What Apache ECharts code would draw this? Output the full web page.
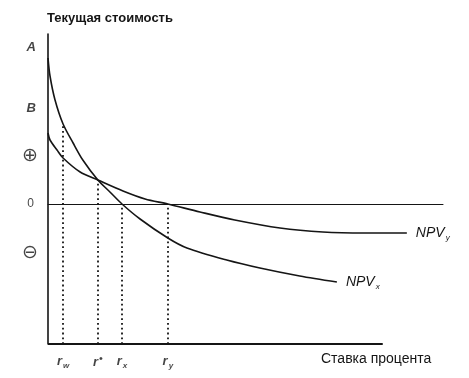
<!DOCTYPE html>
<html>
<head>
<meta charset="utf-8">
<script src="https://cdn.jsdelivr.net/npm/echarts@6/dist/echarts.min.js"></script>
<style>
  html, body { margin: 0; background: #fff; }
  #chart { width: 469px; height: 378px; }
</style>
</head>
<body>
<div id="chart"></div>
<script>
// NPV profiles (rate units 0..118, value units -14..17)
var rateX = [0, 0.6, 2.1, 4.5, 7.5, 10.4, 14.9, 18.5, 22.1, 27.5, 35.8, 41.5, 53.4, 63.3, 75.2, 86.3];
var npvX = [14.6, 12.8, 10.4, 8.0, 6.1, 4.4, 2.4, 1.2, 0, -1.5, -3.4, -4.4, -5.6, -6.4, -7.2, -7.8];
var rateY = [0, 0.6, 2.7, 4.5, 9.6, 14.9, 22.4, 29.0, 35.8, 45.4, 55.8, 69.3, 82.1, 94.6, 107.2];
var npvY = [7.1, 6.4, 5.4, 4.6, 3.2, 2.4, 1.3, 0.5, 0, -0.8, -1.6, -2.4, -2.8, -2.9, -2.9];

// rates marked on the x axis, and how high each dotted line goes
var markNames = ['w', '*', 'x', 'y'];
var markRates = [4.5, 14.9, 22.1, 35.8];
var markTops = [8.0, 2.4, 0, 0];

// labels on the value axis
var leftNames = ['A', 'B', '⊕', '0', '⊖'];
var leftValues = [15.7, 9.6, 4.8, 0, -4.9];

var yMin = -14, yMax = 17, xMax = 118, axisEnd = 100;
var ink = '#151515';

function zip(a, b) {
  return a.map(function (v, i) { return [v, b[i]]; });
}

function leftLabel(name) {
  if (name === '⊕' || name === '⊖') {
    return { fontFamily: 'DejaVu Sans', fontSize: 19, color: ink, distance: 10 };
  }
  if (name === '0') {
    return { fontFamily: 'Liberation Sans', fontSize: 12, color: ink, distance: 14 };
  }
  return { fontFamily: 'Liberation Sans', fontStyle: 'italic', fontWeight: 'bold', fontSize: 13, color: ink, distance: 12 };
}

var npvRich = {
  n: { fontFamily: 'Liberation Sans', fontStyle: 'italic', fontSize: 14, color: ink },
  s: { fontFamily: 'Liberation Sans', fontStyle: 'italic', fontSize: 8, color: ink, padding: [10, 0, 0, 1] }
};

var myChart = echarts.init(document.getElementById('chart'));
var option = {
  animation: false,
  backgroundColor: '#fff',
  title: [{
    text: 'Текущая стоимость',
    left: 47,
    top: 12,
    padding: 0,
    textStyle: { fontFamily: 'Liberation Sans', fontSize: 13, fontWeight: 'bold', color: ink }
  }, {
    text: 'Ставка процента',
    left: 321,
    top: 352,
    padding: 0,
    textStyle: { fontFamily: 'Liberation Sans', fontSize: 14, fontWeight: 'normal', color: ink }
  }],
  grid: { left: 48, right: 26, top: 34, bottom: 34 },
  xAxis: {
    type: 'value',
    min: 0,
    max: xMax,
    axisLine: { show: true, onZero: true, lineStyle: { color: ink, width: 1 } },
    axisTick: { show: false },
    axisLabel: { show: false },
    splitLine: { show: false }
  },
  yAxis: {
    type: 'value',
    min: yMin,
    max: yMax,
    axisLine: { show: true, lineStyle: { color: ink, width: 1.6 } },
    axisTick: { show: false },
    axisLabel: { show: false },
    splitLine: { show: false }
  },
  series: [{
    name: 'NPVx',
    type: 'line',
    smooth: 0.3,
    symbol: 'none',
    clip: false,
    lineStyle: { color: ink, width: 1.6 },
    endLabel: { show: true, distance: 9, formatter: '{n|NPV}{s|x}', rich: npvRich },
    data: zip(rateX, npvX)
  }, {
    name: 'NPVy',
    type: 'line',
    smooth: 0.3,
    symbol: 'none',
    clip: false,
    lineStyle: { color: ink, width: 1.6 },
    endLabel: { show: true, distance: 9, formatter: '{n|NPV}{s|y}', rich: npvRich },
    data: zip(rateY, npvY)
  }, {
    // bottom axis, shorter than the zero line
    name: 'base',
    type: 'line',
    symbol: 'none',
    clip: false,
    lineStyle: { color: ink, width: 2 },
    data: [[0, yMin], [axisEnd, yMin]],
    markLine: {
      silent: true,
      symbol: 'none',
      label: { show: false },
      lineStyle: { color: ink, width: 1.8, type: [1.8, 3] },
      data: markRates.map(function (r, i) {
        return [{ coord: [r, yMin] }, { coord: [r, markTops[i]] }];
      })
    }
  }, {
    name: 'rates',
    type: 'scatter',
    symbolSize: 0,
    clip: false,
    silent: true,
    label: {
      show: true,
      position: 'bottom',
      distance: 9,
      formatter: function (p) {
        return p.name === '*' ? '{r|r}{u|•}' : '{r|r}{s|' + p.name + '}';
      },
      rich: {
        r: { fontFamily: 'Liberation Sans', fontStyle: 'italic', fontWeight: 'bold', fontSize: 13, color: ink },
        s: { fontFamily: 'Liberation Sans', fontStyle: 'italic', fontWeight: 'bold', fontSize: 8, color: ink, padding: [9, 0, 0, 1] },
        u: { fontFamily: 'Liberation Sans', fontSize: 11, color: ink, padding: [0, 0, 8, 1] }
      }
    },
    data: markRates.map(function (r, i) {
      return { name: markNames[i], value: [r, yMin] };
    })
  }, {
    name: 'levels',
    type: 'scatter',
    symbolSize: 0,
    clip: false,
    silent: true,
    label: { show: true, position: 'left', formatter: '{b}' },
    data: leftNames.map(function (n, i) {
      return { name: n, value: [0, leftValues[i]], label: leftLabel(n) };
    })
  }]
};
myChart.setOption(option, true);
</script>
</body>
</html>
